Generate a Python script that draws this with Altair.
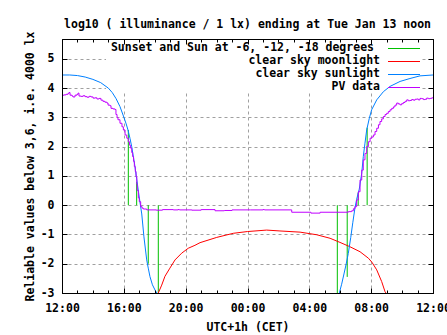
import altair as alt
import pandas as pd

# ---------------- data ----------------
sun_h = [12.0, 12.5, 13.0, 13.5, 14.0, 14.5, 15.0, 15.25, 15.5, 15.75, 16.0, 16.15, 16.27, 16.4,
         16.51, 16.62, 16.72, 16.83, 16.95, 17.05, 17.16, 17.3, 17.48, 17.58, 17.69, 17.85, 18.02, 18.13,
         29.94, 30.09, 30.24, 30.37, 30.52, 30.68, 30.81, 30.95, 31.06, 31.23, 31.39, 31.49, 31.6,
         31.71, 31.88, 32.03, 32.36, 32.79, 33.22, 33.87, 34.51, 35.16, 36.0]
sun_v = [4.45, 4.45, 4.43, 4.38, 4.30, 4.19, 4.00, 3.85, 3.64, 3.37, 3.01, 2.78, 2.57, 2.28,
         2.0, 1.65, 1.32, 0.90, 0.45, 0.08, -0.30, -1.08, -1.87, -2.15, -2.44, -2.72, -2.90, -3.0,
         -3.0, -2.70, -2.35, -2.04, -1.65, -1.10, -0.60, -0.10, 0.20, 0.55, 1.10, 1.66, 2.12,
         2.57, 2.97, 3.26, 3.60, 3.88, 4.06, 4.23, 4.33, 4.42, 4.45]
sun_seg = ["eve"] * 28 + ["morn"] * 23

moon_h = [18.23, 18.45, 18.66, 18.98, 19.31, 19.74, 20.17, 20.6, 20.93, 22.01, 23.08, 23.99,
          25.24, 26.1, 27.4, 28.48, 29.34, 29.98, 30.63, 31.28, 31.82, 32.05, 32.36, 32.68, 32.9, 32.96]
moon_v = [-3.0, -2.73, -2.43, -2.15, -1.87, -1.64, -1.47, -1.37, -1.28, -1.10, -0.96, -0.90,
          -0.85, -0.88, -0.92, -1.01, -1.13, -1.27, -1.42, -1.59, -1.81, -1.95, -2.21, -2.61, -2.96, -3.0]

pv_h = [12.0, 12.13, 12.26, 12.39, 12.45, 12.52, 12.65, 12.71, 12.84, 12.97, 13.04, 13.1, 13.23,
        13.36, 13.49, 13.62, 13.75, 13.88, 14.01, 14.13, 14.26, 14.39, 14.52, 14.65, 14.78, 14.91,
        14.98, 15.11, 15.17, 15.3, 15.43, 15.49, 15.56, 15.62, 15.75, 15.88, 15.97, 16.08, 16.19,
        16.29, 16.37, 16.44, 16.51, 16.57, 16.63, 16.68, 16.74, 16.79, 16.84, 16.87, 16.94, 17.0,
        17.09, 17.18, 17.26, 17.48, 18.1, 18.5, 19.2, 19.5, 19.6, 20.4, 21.0, 21.9, 22.5, 23.0,
        24.2, 25.0, 25.1, 26.86, 28.1, 28.7, 30.52, 30.74, 30.85, 30.95, 31.06, 31.17, 31.28,
        31.39, 31.49, 31.6, 31.71, 31.82, 31.93, 32.04, 32.14, 32.25, 32.36, 32.47, 32.57, 32.68,
        32.79, 32.9, 33.0, 33.11, 33.22, 33.33, 33.44, 33.54, 33.65, 33.76, 33.87, 33.97, 34.08,
        34.19, 34.3, 34.4, 34.51, 34.62, 34.73, 34.84, 34.95, 35.05, 35.16, 35.27, 35.38, 35.48,
        35.59, 35.7, 35.81, 35.92, 36.0]
pv_v = [3.76, 3.77, 3.79, 3.82, 3.85, 3.76, 3.73, 3.70, 3.76, 3.79, 3.83, 3.73, 3.72,
        3.74, 3.71, 3.69, 3.72, 3.70, 3.66, 3.67, 3.63, 3.65, 3.59, 3.55, 3.52, 3.49,
        3.42, 3.40, 3.31, 3.29, 3.27, 3.10, 3.00, 2.92, 2.80, 2.68, 2.57, 2.40, 2.29,
        2.17, 2.05, 1.95, 1.80, 1.66, 1.50, 1.32, 1.15, 0.98, 0.72, 0.50, 0.25, 0.12,
        -0.05, -0.10, -0.13, -0.16, -0.17, -0.15, -0.16, -0.15, -0.16, -0.17, -0.15, -0.19, -0.18, -0.16,
        -0.16, -0.15, -0.16, -0.24, -0.27, -0.24, -0.22, -0.19, -0.12, -0.05, 0.18, 0.46, 0.86,
        1.20, 1.55, 1.77, 2.00, 2.17, 2.29, 2.33, 2.40, 2.52, 2.63, 2.75, 2.86, 2.95,
        3.03, 3.10, 3.14, 3.20, 3.26, 3.31, 3.36, 3.42, 3.49, 3.46, 3.43, 3.47, 3.51,
        3.55, 3.60, 3.57, 3.58, 3.61, 3.59, 3.62, 3.63, 3.60, 3.65, 3.64, 3.61, 3.62,
        3.66, 3.64, 3.65, 3.67, 3.67]

# sunset, sun at -6, -12, -18 degrees (evening) and the same in the morning
evt_h = [16.29, 16.83, 17.58, 18.23, 29.81, 30.45, 31.16, 31.74]
evt_v = [2.57, 0.80, -2.00, -3.00, -3.00, -2.45, 0.43, 2.65]

legend_labels = ["Sunset and Sun at -6, -12, -18 degrees", "clear sky moonlight",
                 "clear sky sunlight", "PV data"]
legend_colors = ["#00c000", "#ff0000", "#0080ff", "#c000ff"]

x_major = [12, 16, 20, 24, 28, 32, 36]
x_minor = list(range(12, 37))
y_ticks = [-3, -2, -1, 0, 1, 2, 3, 4, 5]
y_domain = [-3, 5.68]
x_domain = [12, 36]

FONT = "DejaVu Sans Mono"
FS = 11.5
GRID = "#a0a0a0"

X = alt.Scale(domain=x_domain, nice=False, zero=False)
Y = alt.Scale(domain=y_domain, nice=False, zero=False)

hour_expr = "(datum.value % 24 < 10 ? '0' : '') + (datum.value % 24) + ':00'"

ax_x_main = alt.Axis(orient="bottom", values=x_major, labelExpr=hour_expr, ticks=False, tickSize=0,
                     domain=False, grid=True, gridColor=GRID, gridDash=[3, 3], gridWidth=1,
                     labelPadding=9, labelFlush=False, labelOverlap=False,
                     title="UTC+1h (CET)", titlePadding=8, zindex=0)
ax_y_main = alt.Axis(orient="left", values=y_ticks, labelExpr="'' + datum.value", ticks=False,
                     tickSize=0, domain=False, grid=True, gridColor=GRID, gridDash=[3, 3],
                     gridWidth=1, labelPadding=8, labelFlush=False, labelOverlap=False,
                     title="Reliable values below 3,6, i.e. 4000 lx", titlePadding=5, zindex=0)


def tick_axis(orient, values, size):
    return alt.Axis(orient=orient, values=values, offset=-size, tickSize=size, ticks=True,
                    tickColor="black", tickWidth=1, labels=False, domain=False, grid=False,
                    title=None, zindex=1)


sun_df = pd.DataFrame({"h": sun_h, "v": sun_v, "seg": sun_seg})
moon_df = pd.DataFrame({"h": moon_h, "v": moon_v})
pv_df = pd.DataFrame({"h": pv_h, "v": pv_v})
evt_df = pd.DataFrame({"h": evt_h, "v": evt_v, "zero": [0.0] * len(evt_h)})
frame_df = pd.DataFrame({"x0": [x_domain[0]], "x1": [x_domain[1]],
                         "y0": [y_domain[0]], "y1": [y_domain[1]]})

# white key box hiding the grid behind the legend
key_box = alt.Chart(pd.DataFrame({"k": [0]})).mark_rect(color="white").encode(
    x=alt.value(44), x2=alt.value(360), y=alt.value(0), y2=alt.value(53))

events = alt.Chart(evt_df).mark_rule(color=legend_colors[0], strokeWidth=1).encode(
    x=alt.X("h:Q", scale=X, axis=tick_axis("top", x_major, 5)),
    y=alt.Y("zero:Q", scale=Y, axis=None),
    y2="v:Q")

moon = alt.Chart(moon_df).mark_line(color=legend_colors[1], strokeWidth=1, clip=True).encode(
    x=alt.X("h:Q", scale=X, axis=tick_axis("bottom", x_major, 5)),
    y=alt.Y("v:Q", scale=Y, axis=tick_axis("left", y_ticks, 5)))

sun = alt.Chart(sun_df).mark_line(color=legend_colors[2], strokeWidth=1, clip=True).encode(
    x=alt.X("h:Q", scale=X, axis=ax_x_main),
    y=alt.Y("v:Q", scale=Y, axis=ax_y_main),
    detail="seg:N")

pv = alt.Chart(pv_df).mark_line(color=legend_colors[3], strokeWidth=1, clip=True,
                                interpolate="step-after").encode(
    x=alt.X("h:Q", scale=X, axis=tick_axis("bottom", x_minor, 3)),
    y=alt.Y("v:Q", scale=Y, axis=tick_axis("right", y_ticks, 5)))

legend_layers = []
text_right = [312, 318, 318, 318]
for i, lab in enumerate(legend_labels):
    yy = 9 + 13 * i
    row = pd.DataFrame({"label": [lab]})
    legend_layers.append(
        alt.Chart(row).mark_text(align="right", baseline="middle", font=FONT, fontSize=FS,
                                 fontWeight="bold", color="black").encode(
            x=alt.value(text_right[i]), y=alt.value(yy), text="label:N"))
    legend_layers.append(
        alt.Chart(row).mark_rule(color=legend_colors[i], strokeWidth=1).encode(
            x=alt.value(326), x2=alt.value(358), y=alt.value(yy + 0.5)))

frame = alt.Chart(frame_df).mark_rect(fillOpacity=0, stroke="black", strokeWidth=1,
                                      xOffset=0.5, x2Offset=0.5, yOffset=0.5, y2Offset=0.5).encode(
    x=alt.X("x0:Q", scale=X, axis=tick_axis("top", x_minor, 3)),
    x2="x1:Q",
    y=alt.Y("y0:Q", scale=Y, axis=None),
    y2="y1:Q")

chart = alt.layer(key_box, events, moon, sun, pv, *legend_layers, frame).resolve_axis(
    x="independent", y="independent"
).properties(
    width=371, height=254,
    padding={"left": 62, "top": 39, "right": 14, "bottom": 42},
    autosize=alt.AutoSizeParams(type="none"),
    background="white",
    title=alt.TitleParams("log10 ( illuminance / 1 lx) ending at Tue Jan 13 noon", font=FONT,
                          fontSize=FS, fontWeight="bold", color="black", anchor="middle",
                          baseline="alphabetic", offset=15, dy=24),
).configure_view(strokeWidth=0).configure_axis(
    labelFont=FONT, labelFontSize=FS, labelFontWeight="bold", labelColor="black",
    titleFont=FONT, titleFontSize=FS, titleFontWeight="bold", titleColor="black")

chart.save("out.html", embed_options={"renderer": "svg", "actions": False})
